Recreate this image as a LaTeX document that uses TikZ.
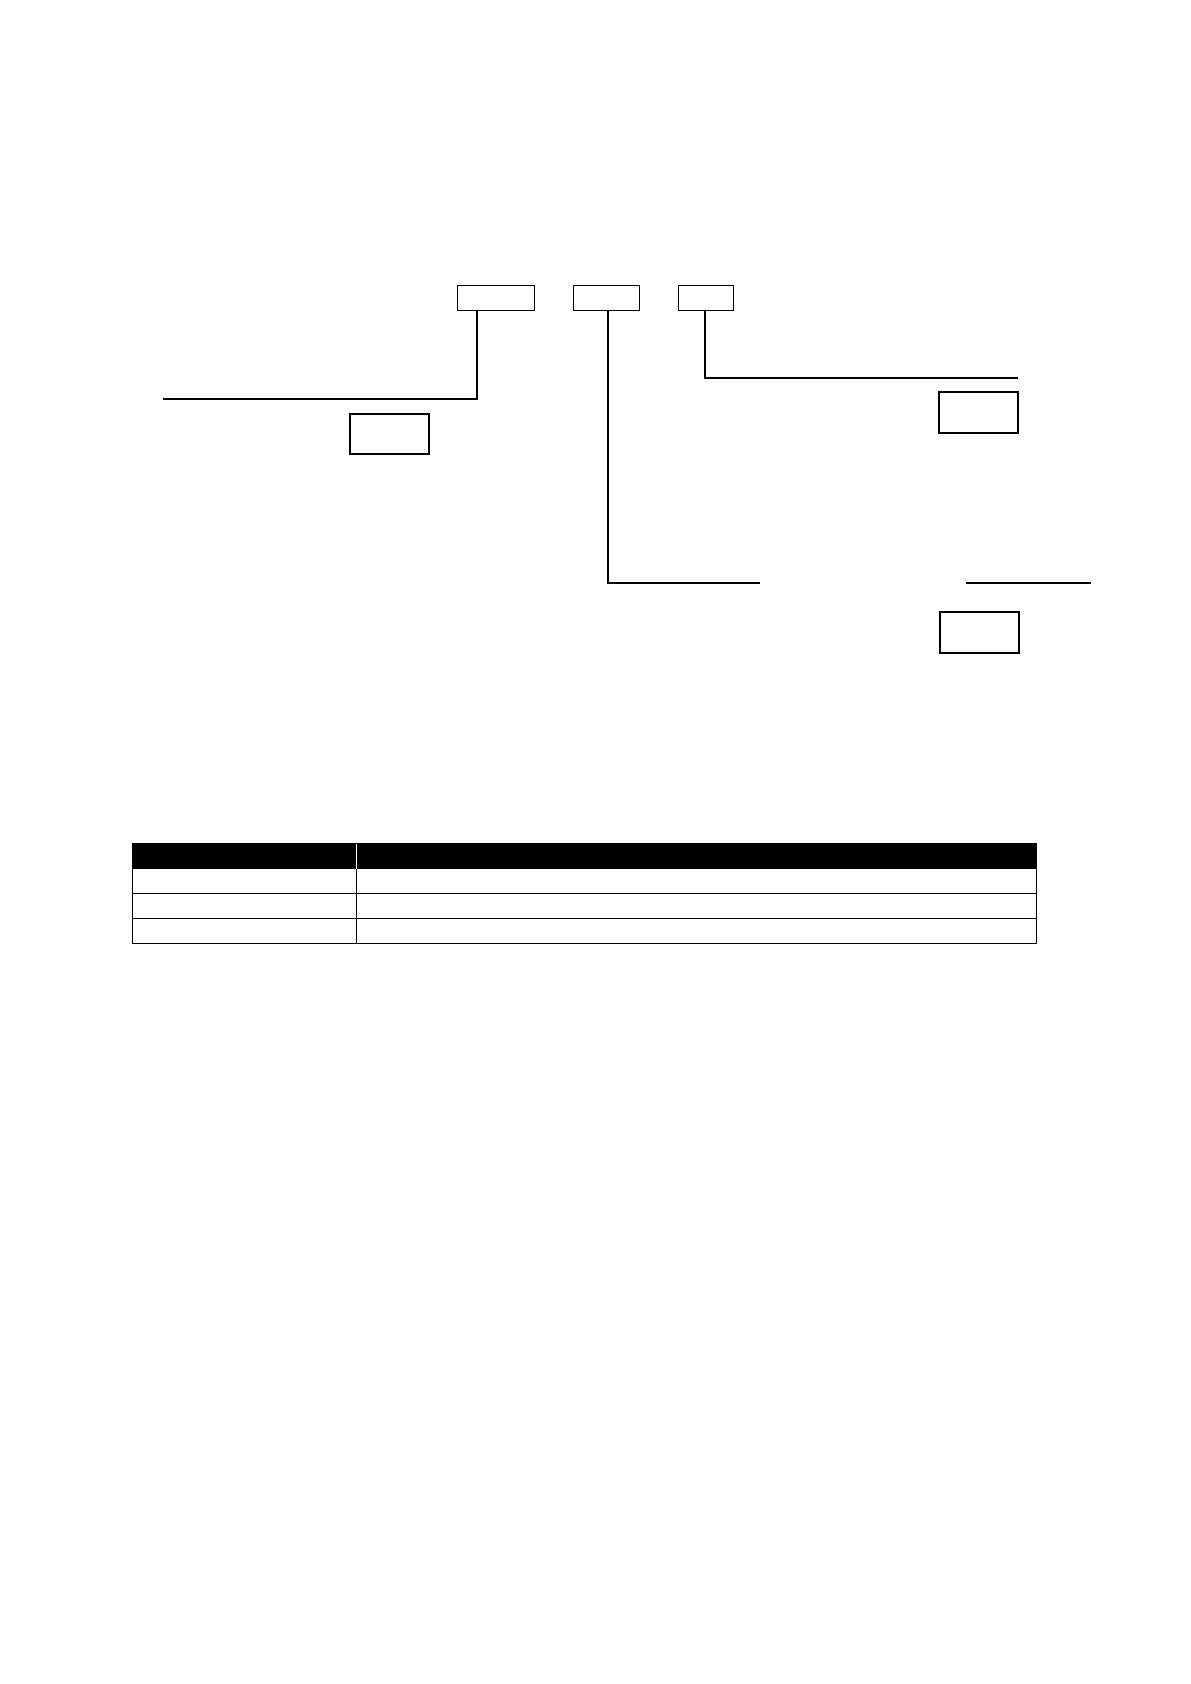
\documentclass[tikz,border=0pt]{standalone}
\usepackage{tikz}

\begin{document}
\begin{tikzpicture}[x=0.5pt,y=-0.5pt]
		\tikzstyle{CODE} = [draw=black, line width=0.5pt, inner sep=0pt, minimum height=12.5pt]
		\tikzstyle{TAG} = [draw=black, line width=0.85pt, inner sep=0pt, minimum width=39.5pt, minimum height=20.5pt]
		\tikzstyle{lead} = [line width=0.85pt]
		\tikzstyle{grid} = [line width=0.5pt]

		\useasboundingbox (0,0) rectangle (1190,1684);

		\node[CODE, minimum width=38.5pt] (cOne) at (495.5,298.5) {};
		\node[CODE, minimum width=33pt] (cTwo) at (606,298.5) {};
		\node[CODE, minimum width=27.5pt] (cThree) at (705.5,298.5) {};

		\node[TAG, minimum height=20pt] (tOne) at (389.5,434) {};
		\node[TAG] (tThree) at (978.5,412.5) {};
		\node[TAG] (tTwo) at (979.5,632.5) {};

		\coordinate (turnOne) at (477,399);
		\coordinate (endOne) at (163,399);
		\coordinate (turnTwo) at (608,583);
		\coordinate (endTwo) at (760,583);
		\coordinate (startTwo) at (966,583);
		\coordinate (endTwoB) at (1091,583);
		\coordinate (turnThree) at (705,378);
		\coordinate (endThree) at (1018,378);

		\draw[lead] (turnOne |- cOne.south) -- (turnOne) -- (endOne);
		\draw[lead] (turnTwo |- cTwo.south) -- (turnTwo) -- (endTwo);
		\draw[lead] (startTwo) -- (endTwoB);
		\draw[lead] (turnThree |- cThree.south) -- (turnThree) -- (endThree);

		% table
		\fill[black] (132,843) rectangle (1036,869);
		\draw[white, line width=0.5pt] (356,844) -- (356,869);
		\draw[grid] (132,843) rectangle (1036,943);
		\draw[grid] (132,893) -- (1036,893);
		\draw[grid] (132,918) -- (1036,918);
		\draw[grid] (356,869) -- (356,943);
\end{tikzpicture}
\end{document}
